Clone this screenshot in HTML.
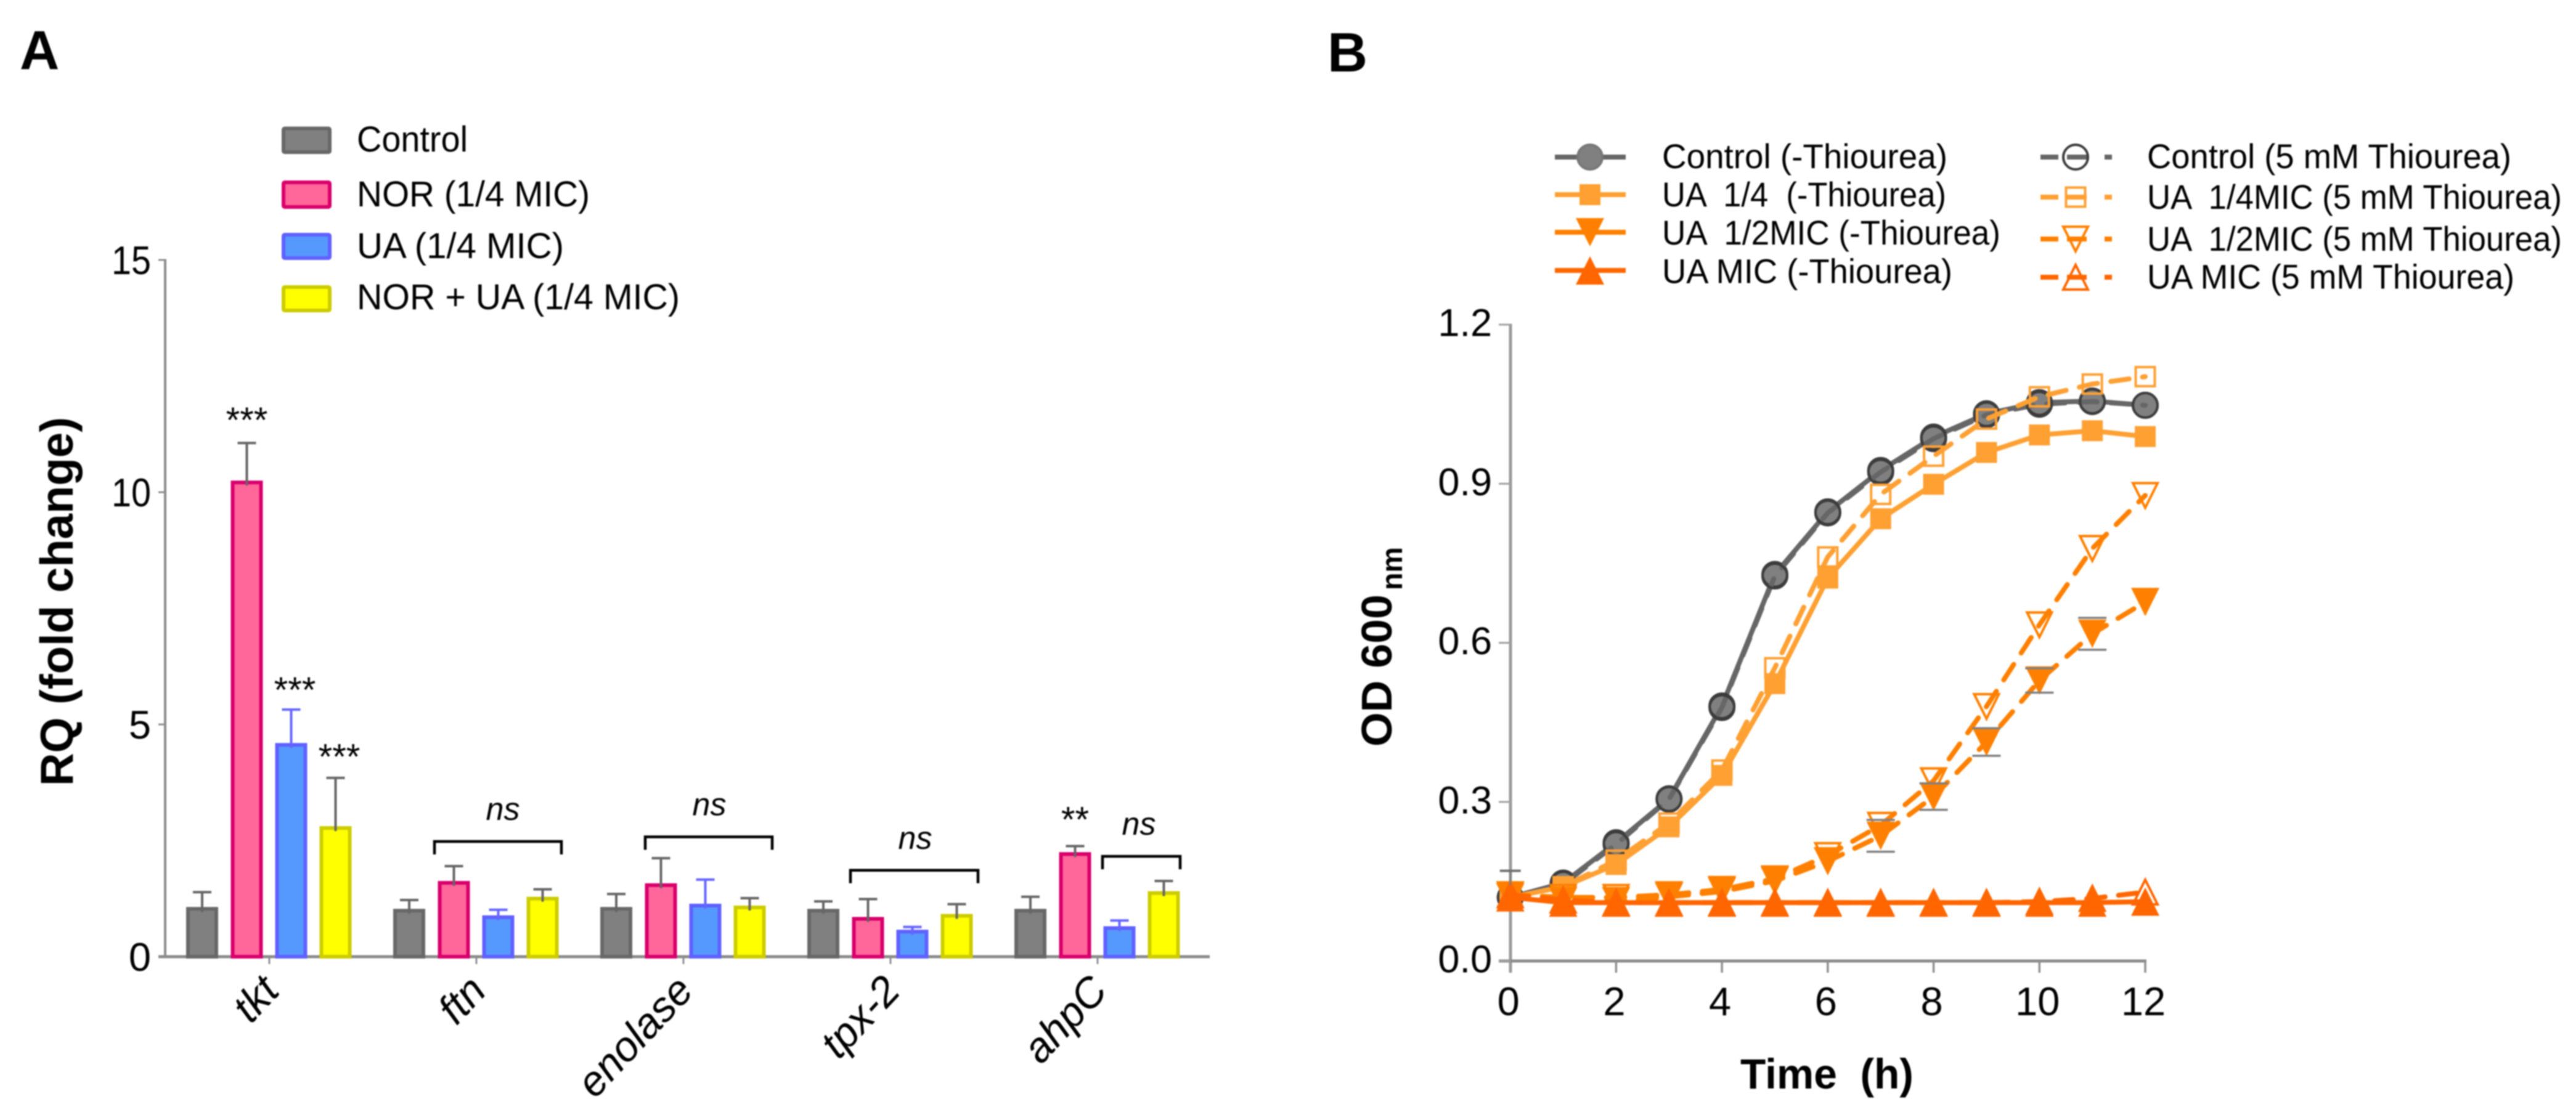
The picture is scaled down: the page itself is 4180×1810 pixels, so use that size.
<!DOCTYPE html>
<html lang="en">
<head>
<meta charset="utf-8">
<title>RQ fold change and OD600 growth curves</title>
<style>
html,body{margin:0;padding:0;background:#fff}
#figure{display:block;width:4180px;height:1810px;background:#fff;filter:blur(1px)}
text{font-family:"Liberation Sans",Arial,sans-serif;fill:#000}
</style>
</head>
<body>
<svg id="figure" xmlns="http://www.w3.org/2000/svg" width="4180" height="1810" viewBox="0 0 4180 1810"></svg>
<script>
/* ---------- Panel A data ---------- */
const genes = ['tkt', 'ftn', 'enolase', 'tpx-2', 'ahpC'];
const barSeriesNames = ['Control', 'NOR (1/4 MIC)', 'UA (1/4 MIC)', 'NOR + UA (1/4 MIC)'];
const rqControl = [1.07, 1.03, 1.07, 1.03, 1.03];
const rqNor = [10.25, 1.63, 1.58, 0.855, 2.25];
const rqUa = [4.6, 0.89, 1.14, 0.58, 0.655];
const rqCombo = [2.81, 1.29, 1.10, 0.92, 1.41];
const errControl = [0.32, 0.19, 0.28, 0.16, 0.26];
const errNor = [0.81, 0.32, 0.54, 0.385, 0.13];
const errUa = [0.72, 0.12, 0.52, 0.06, 0.125];
const errCombo = [1.04, 0.16, 0.16, 0.21, 0.22];
const rqTicks = [0, 5, 10, 15];
const bracketValues = [null, 2.48, 2.58, 1.86, 2.16];

/* ---------- Panel B data ---------- */
const hours = [0, 1, 2, 3, 4, 5, 6, 7, 8, 9, 10, 11, 12];
const odControl = [0.12, 0.147, 0.223, 0.306, 0.481, 0.729, 0.847, 0.925, 0.988, 1.032, 1.053, 1.056, 1.048];
const odControlThio = [0.12, 0.145, 0.22, 0.305, 0.478, 0.726, 0.845, 0.922, 0.985, 1.03, 1.05, 1.055, 1.048];
const odUa14 = [0.12, 0.14, 0.182, 0.253, 0.35, 0.523, 0.722, 0.834, 0.899, 0.959, 0.992, 1.0, 0.989];
const odUa14Thio = [0.12, 0.14, 0.19, 0.26, 0.36, 0.553, 0.762, 0.88, 0.952, 1.022, 1.064, 1.088, 1.102];
const odUa12 = [0.12, 0.113, 0.113, 0.121, 0.131, 0.151, 0.188, 0.236, 0.31, 0.413, 0.529, 0.617, 0.677];
const odUa12Thio = [0.125, 0.12, 0.12, 0.125, 0.135, 0.155, 0.199, 0.256, 0.34, 0.48, 0.634, 0.778, 0.878];
const odUaMic = [0.12, 0.11, 0.11, 0.11, 0.11, 0.11, 0.11, 0.11, 0.11, 0.11, 0.11, 0.11, 0.112];
const odUaMicThio = [0.125, 0.115, 0.11, 0.11, 0.11, 0.11, 0.11, 0.11, 0.11, 0.11, 0.112, 0.118, 0.13];
const errUa12 = [0, 0, 0, 0, 0, 0, 0, 0.03, 0.025, 0.026, 0.023, 0.03, 0];
const errControlUpper = [0.05, 0, 0, 0, 0, 0, 0, 0, 0, 0, 0, 0, 0];
const odTicks = [0, 0.3, 0.6, 0.9, 1.2];
const timeTicks = [0, 2, 4, 6, 8, 10, 12];

/* ---------- Axis functions ---------- */
function yA(v) { return 1553 - 75.4 * v; }
function xA(g) { return 437 + 336 * g; }
function yB(v) { return 1560 - 860.8 * v; }
function xB(t) { return 2450.7 + 85.86 * t; }

const svg = document.getElementById('figure');
const NS = 'http://www.w3.org/2000/svg';

function make(parent, tag, attrs, content) {
  const el = document.createElementNS(NS, tag);
  for (const k in attrs) el.setAttribute(k, attrs[k]);
  if (content !== undefined) el.textContent = content;
  parent.appendChild(el);
  return el;
}
function group(parent, name) {
  const g = make(parent, 'g', {});
  
  
  return g;
}
function line(parent, name, x1, y1, x2, y2, color, w) {
  const el = make(parent, 'line', { x1: x1, y1: y1, x2: x2, y2: y2, stroke: color, 'stroke-width': w });
  
  
  return el;
}
function label(parent, name, str, attrs) {
  const el = make(parent, 'text', attrs, str);
  
  
  return el;
}

/* ---------- Panel labels ---------- */
label(svg, 'panel-label-a', 'A', { x: 32, y: 112, 'font-size': 89, 'font-weight': 700 });
label(svg, 'panel-label-b', 'B', { x: 2154, y: 116, 'font-size': 90, 'font-weight': 700 });

/* ---------- Panel A ---------- */
const panelA = group(svg, 'bar-chart-panel-a');
const barFills = ['#808080', '#ff6699', '#5599ff', '#ffff00'];
const barStrokes = ['#686868', '#d9006c', '#6060ff', '#cccc00'];
const errColors = ['#666666', '#666666', '#6666ff', '#666666'];
const barOffsets = [-109, -36.5, 35.5, 107.5];
const barValues = [rqControl, rqNor, rqUa, rqCombo];
const barErrors = [errControl, errNor, errUa, errCombo];
const barKeys = ['control', 'nor', 'ua', 'nor-ua'];

const axesA = group(panelA, 'axes-a');
rqTicks.forEach(function (v) {
  line(axesA, 'y-tick-a-' + v, 257, yA(v), 268, yA(v), '#909090', 3);
  const attrs = { x: 245, y: yA(v) + 23, 'font-size': 65, 'text-anchor': 'end', fill: '#111' };
  if (v >= 10) { attrs.textLength = 64; attrs.lengthAdjust = 'spacingAndGlyphs'; }
  label(axesA, 'y-tick-label-a-' + v, String(v), attrs);
});
label(axesA, 'y-axis-title-a', 'RQ (fold change)', {
  transform: 'translate(118,1276) rotate(-90)', 'font-size': 75, 'font-weight': 700,
  textLength: 599, lengthAdjust: 'spacingAndGlyphs'
});

const barsA = group(panelA, 'bars-a');
genes.forEach(function (gene, g) {
  barValues.forEach(function (vals, s) {
    const cx = xA(g) + barOffsets[s];
    const v = vals[g];
    const top = yA(v);
    const rect = make(barsA, 'rect', {
      x: cx - 23, y: top + 3, width: 46, height: yA(0) - top - 3,
      fill: barFills[s], stroke: barStrokes[s], 'stroke-width': 6
    });
    
    
    const eTop = yA(v + barErrors[s][g]);
    line(barsA, 'error-stem-' + gene + '-' + barKeys[s], cx, top + 8, cx, eTop, errColors[s], 4);
    line(barsA, 'error-cap-' + gene + '-' + barKeys[s], cx - 15, eTop, cx + 15, eTop, errColors[s], 4);
  });
  line(axesA, 'x-tick-a-' + gene, xA(g), yA(0), xA(g), yA(0) + 12, '#909090', 3);
  label(axesA, 'x-tick-label-' + gene, gene, {
    transform: 'translate(' + (xA(g) + 19) + ',1611) rotate(-47)',
    'font-size': 68, 'font-style': 'italic', 'text-anchor': 'end', fill: '#111'
  });
});
line(axesA, 'y-axis-a', 268, yA(15) - 1.5, 268, yA(0), '#8c8c8c', 4);
line(axesA, 'x-axis-a', 257, yA(0), 1963, yA(0), '#8c8c8c', 5);

/* significance */
const sigA = group(panelA, 'significance-a');
[[0, 1, '***', 17], [0, 2, '***', 12], [0, 3, '***', 14], [4, 1, '**', 23]].forEach(function (m) {
  const vals = barValues[m[1]], errs = barErrors[m[1]];
  label(sigA, 'significance-stars-' + genes[m[0]] + '-' + barKeys[m[1]], m[2], {
    x: xA(m[0]) + barOffsets[m[1]] + (m[0] === 0 && m[1] >= 2 ? 6 : 0),
    y: yA(vals[m[0]] + errs[m[0]]) - m[3], 'font-size': 58, 'text-anchor': 'middle', fill: '#222'
  });
});
const bracketSpans = [null, [-68, 138, 43], [-62, 144, 42], [-65, 142, 40], [8, 134, 67]];
bracketValues.forEach(function (v, g) {
  if (v === null) return;
  const sp = bracketSpans[g];
  const top = yA(v);
  const l = xA(g) + sp[0], r = xA(g) + sp[1];
  const p = make(sigA, 'path', {
    d: 'M' + l + ' ' + (top + 21) + 'V' + top + 'H' + r + 'V' + (top + 21),
    fill: 'none', stroke: '#000', 'stroke-width': 4.5
  });
  
  
  label(sigA, 'ns-label-' + genes[g], 'ns', {
    x: xA(g) + sp[2], y: top - 35, 'font-size': 52, 'font-style': 'italic', 'text-anchor': 'middle', fill: '#111'
  });
});

/* legend A */
const legendA = group(panelA, 'legend-a');
const legendABoxes = [[205.5, 250], [293, 339], [378, 422], [463, 507]];
const legendABase = [246, 335, 419, 502];
const legendALen = [180, 378, 336, 524];
barSeriesNames.forEach(function (name, i) {
  const entry = group(legendA, 'legend-entry-' + barKeys[i]);
  const b = legendABoxes[i];
  const r = make(entry, 'rect', {
    x: 460, y: b[0] + 3, width: 75, height: b[1] - b[0] - 6, rx: 2,
    fill: barFills[i], stroke: barStrokes[i], 'stroke-width': 6
  });
  
  
  label(entry, 'legend-label-' + barKeys[i], name, {
    x: 579, y: legendABase[i], 'font-size': 58, textLength: legendALen[i],
    lengthAdjust: 'spacingAndGlyphs', fill: '#111'
  });
});

/* ---------- Panel B ---------- */
const panelB = group(svg, 'growth-chart-panel-b');
const axesB = group(panelB, 'axes-b');
line(axesB, 'y-axis-b', 2451, yB(1.2) - 1.5, 2451, 1579, '#9a9a9a', 5);
line(axesB, 'x-axis-b', 2432, yB(0), 3483, yB(0), '#8c8c8c', 5);
odTicks.forEach(function (v) {
  line(axesB, 'y-tick-b-' + v, 2432, yB(v), 2451, yB(v), '#a0a0a0', 3);
  label(axesB, 'y-tick-label-b-' + v, v.toFixed(1), {
    x: 2421, y: yB(v) + 18.5, 'font-size': 63, 'text-anchor': 'end', fill: '#111'
  });
});
timeTicks.forEach(function (t) {
  if (t > 0) line(axesB, 'x-tick-b-' + t, xB(t), yB(0), xB(t), yB(0) + 19, '#909090', 3.5);
  label(axesB, 'x-tick-label-b-' + t, String(t), {
    x: xB(t) - 3, y: 1648, 'font-size': 65, 'text-anchor': 'middle', fill: '#111'
  });
});
const timeTitle = label(axesB, 'x-axis-title-b', 'Time  (h)', {
  x: 2824, y: 1767, 'font-size': 69, 'font-weight': 700, textLength: 281, lengthAdjust: 'spacingAndGlyphs'
});
timeTitle.style.whiteSpace = 'pre';
label(axesB, 'y-axis-title-b', 'OD 600', {
  transform: 'translate(2258,1212) rotate(-90)', 'font-size': 70, 'font-weight': 700,
  textLength: 247, lengthAdjust: 'spacingAndGlyphs'
});
label(axesB, 'y-axis-title-subscript-b', 'nm', {
  transform: 'translate(2275,958) rotate(-90)', 'font-size': 48, 'font-weight': 700,
  textLength: 70, lengthAdjust: 'spacingAndGlyphs'
});

function marker(parent, name, shape, open, cx, cy, color, edge) {
  let el;
  const sw = open ? 4 : 0;
  const fill = open ? 'none' : color;
  if (shape === 'circle') {
    el = make(parent, 'circle', { cx: cx, cy: cy, r: 20, fill: open ? 'none' : color, stroke: edge, 'stroke-width': 4 });
  } else if (shape === 'square') {
    const s = open ? 15.5 : 17;
    el = make(parent, 'rect', { x: cx - s, y: cy - s, width: 2 * s, height: 2 * s, fill: fill, stroke: color, 'stroke-width': sw });
  } else {
    const d = open ? 20 : 23;
    const dir = shape === 'down' ? 1 : -1;
    const pts = (cx - d) + ',' + (cy - dir * d) + ' ' + (cx + d) + ',' + (cy - dir * d) + ' ' + cx + ',' + (cy + dir * d);
    el = make(parent, 'polygon', { points: pts, fill: fill, stroke: color, 'stroke-width': sw });
  }
  
  
  return el;
}

const seriesB = [
  { key: 'control', vals: odControl, color: '#666666', mark: '#808080', edge: '#3c3c3c', shape: 'circle', open: false, dash: false },
  { key: 'control-thiourea', vals: odControlThio, color: '#666666', mark: '#666666', edge: '#3c3c3c', shape: 'circle', open: true, dash: true },
  { key: 'ua-quarter', vals: odUa14, color: '#ffa033', mark: '#ffa033', edge: '#ffa033', shape: 'square', open: false, dash: false },
  { key: 'ua-quarter-thiourea', vals: odUa14Thio, color: '#ffa033', mark: '#ffa033', edge: '#ffa033', shape: 'square', open: true, dash: true },
  { key: 'ua-half', vals: odUa12, color: '#ff8000', mark: '#ff8000', edge: '#ff8000', shape: 'down', open: false, dash: true },
  { key: 'ua-half-thiourea', vals: odUa12Thio, color: '#ff8000', mark: '#ff8000', edge: '#ff8000', shape: 'down', open: true, dash: true },
  { key: 'ua-mic', vals: odUaMic, color: '#ff6600', mark: '#ff6600', edge: '#ff6600', shape: 'up', open: false, dash: false },
  { key: 'ua-mic-thiourea', vals: odUaMicThio, color: '#ff6600', mark: '#ff6600', edge: '#ff6600', shape: 'up', open: true, dash: true }
];
const plotB = group(panelB, 'series-b');
seriesB.forEach(function (s) {
  const g = group(plotB, 'series-' + s.key);
  const pts = hours.map(function (t, i) { return xB(t) + ',' + yB(s.vals[i]); }).join(' ');
  const attrs = { points: pts, fill: 'none', stroke: s.color, 'stroke-width': 8, 'stroke-linejoin': 'round' };
  if (s.dash) { attrs['stroke-dasharray'] = '30 22'; attrs['stroke-linecap'] = 'round'; }
  const pl = make(g, 'polyline', attrs);
  
  
  hours.forEach(function (t, i) {
    marker(g, 'point-' + s.key + '-' + t, s.shape, s.open, xB(t), yB(s.vals[i]), s.mark, s.edge);
  });
});
const errsB = group(panelB, 'error-bars-b');
hours.forEach(function (t, i) {
  if (errUa12[i] > 0) {
    const hi = yB(odUa12[i] + errUa12[i]), lo = yB(odUa12[i] - errUa12[i]);
    line(errsB, 'error-cap-upper-ua-half-' + t, xB(t) - 23, hi, xB(t) + 23, hi, '#808080', 3.5);
    line(errsB, 'error-cap-lower-ua-half-' + t, xB(t) - 23, lo, xB(t) + 23, lo, '#808080', 3.5);
  }
  if (errControlUpper[i] > 0) {
    const up = yB(odControl[i] + errControlUpper[i]);
    line(errsB, 'error-stem-control-' + t, xB(t), up, xB(t), yB(odControl[i]) - 20, '#808080', 3);
    line(errsB, 'error-cap-control-' + t, xB(t) - 17, up, xB(t) + 17, up, '#707070', 4);
  }
});

/* legend B */
const legendB = group(panelB, 'legend-b');
const legendLeftNames = ['Control (-Thiourea)', 'UA  1/4  (-Thiourea)', 'UA  1/2MIC (-Thiourea)', 'UA MIC (-Thiourea)'];
const legendRightNames = ['Control (5 mM Thiourea)', 'UA  1/4MIC (5 mM Thiourea)', 'UA  1/2MIC (5 mM Thiourea)', 'UA MIC (5 mM Thiourea)'];
const legendLeftLen = [463, 461, 549, 471];
const legendRightLen = [591, 673, 673, 596];
const legendLeftY = [255, 316, 377, 439];
const legendRightY = [255, 320, 388, 450];
const legendLeftBase = [273, 335, 397, 459.5];
const legendRightBase = [273, 339, 407, 468.5];
[0, 1, 2, 3].forEach(function (i) {
  const solid = seriesB[i * 2];
  const dashed = seriesB[i * 2 + 1];
  const a = group(legendB, 'legend-entry-' + solid.key);
  line(a, 'legend-line-' + solid.key, 2523, legendLeftY[i], 2638, legendLeftY[i], solid.color, 8);
  marker(a, 'legend-marker-' + solid.key, solid.shape, false, 2580, legendLeftY[i], solid.mark, solid.edge === '#3c3c3c' ? '#777777' : solid.edge);
  const lt = label(a, 'legend-label-' + solid.key, legendLeftNames[i], {
    x: 2697, y: legendLeftBase[i], 'font-size': 56, textLength: legendLeftLen[i],
    lengthAdjust: 'spacingAndGlyphs', fill: '#111'
  });
  lt.style.whiteSpace = 'pre';
  const b = group(legendB, 'legend-entry-' + dashed.key);
  const dl = line(b, 'legend-line-' + dashed.key, 3311, legendRightY[i], 3427, legendRightY[i], dashed.color, 8);
  dl.setAttribute('stroke-dasharray', '29 14 32 29 13');
  marker(b, 'legend-marker-' + dashed.key, dashed.shape, true, 3368, legendRightY[i], dashed.mark, dashed.edge);
  const rt = label(b, 'legend-label-' + dashed.key, legendRightNames[i], {
    x: 3484, y: legendRightBase[i], 'font-size': 56, textLength: legendRightLen[i],
    lengthAdjust: 'spacingAndGlyphs', fill: '#111'
  });
  rt.style.whiteSpace = 'pre';
});
</script>
</body>
</html>
